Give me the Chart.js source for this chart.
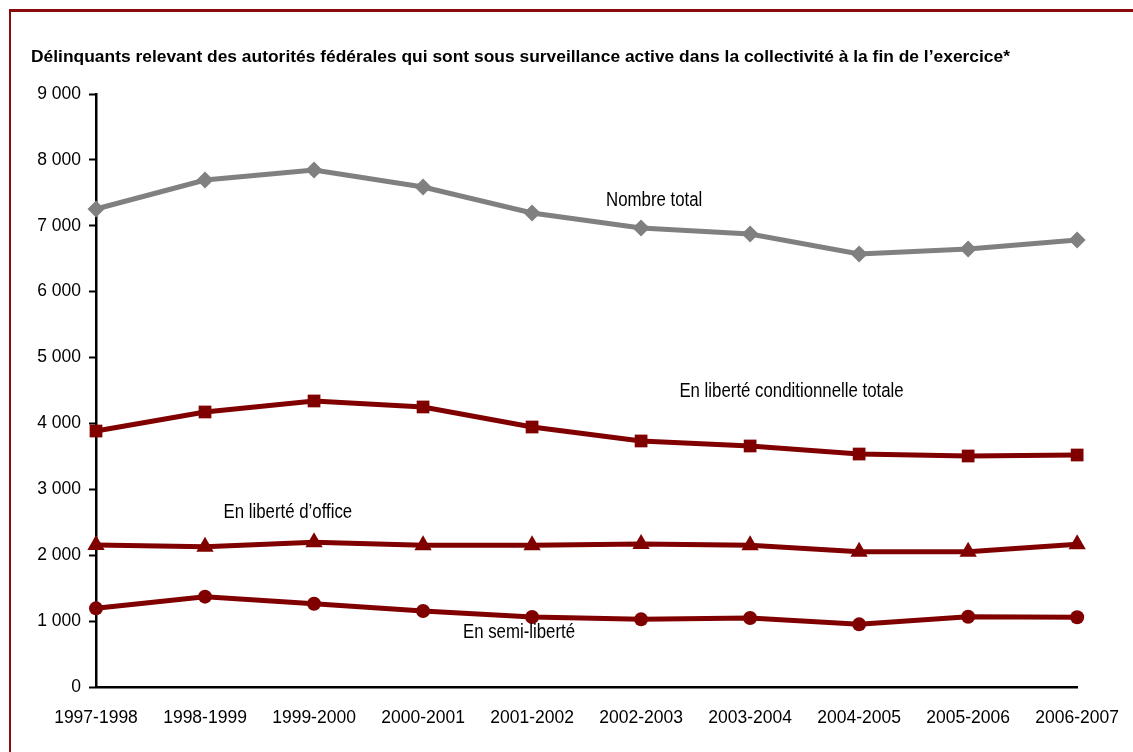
<!DOCTYPE html>
<html>
<head>
<meta charset="utf-8">
<script src="https://cdn.jsdelivr.net/npm/chart.js@4/dist/chart.umd.min.js"></script>
<style>
  html, body { margin: 0; padding: 0; background: #fff; }
  #wrap { position: relative; width: 1133px; height: 752px; overflow: hidden; }
  #frame { position: absolute; left: 9px; top: 9px; width: 1140px; height: 760px;
           border-left: 2px solid #8b0a0a; border-top: 3px solid #8b0a0a; box-sizing: border-box; }
  canvas { position: absolute; left: 0; top: 0; }
</style>
</head>
<body>
<div id="wrap">
  <div id="frame"></div>
  <canvas id="c" width="1133" height="752"></canvas>
</div>
<script>
const categories = ['1997-1998','1998-1999','1999-2000','2000-2001','2001-2002','2002-2003','2003-2004','2004-2005','2005-2006','2006-2007'];
const nombreTotal = [7255, 7695, 7846, 7588, 7194, 6966, 6875, 6572, 6647, 6784];
const conditionnelleTotale = [3885, 4174, 4341, 4250, 3946, 3734, 3658, 3536, 3506, 3521];
const liberteOffice = [2155, 2129, 2196, 2150, 2150, 2170, 2150, 2053, 2053, 2165];
const semiLiberte = [1194, 1371, 1264, 1153, 1062, 1027, 1047, 951, 1067, 1058];
const yTicks = [0, 1000, 2000, 3000, 4000, 5000, 6000, 7000, 8000, 9000];
const titleText = 'Délinquants relevant des autorités fédérales qui sont sous surveillance active dans la collectivité à la fin de l\u2019exercice*';
// series labels: [text, category position (fractional index), value]
const seriesLabels = [
  ['Nombre total', 5.12, 7390],
  ['En liberté conditionnelle totale', 6.38, 4492],
  ['En liberté d\u2019office', 1.76, 2656],
  ['En semi-liberté', 3.88, 835]
];

const GREY = '#808080';
const RED = '#800000';
const SANS = '"Liberation Sans", Arial, sans-serif';

function narrowText(ctx, text, x, y, squeeze, align) {
  ctx.save();
  ctx.translate(x, y);
  ctx.scale(squeeze, 1);
  ctx.textAlign = align;
  ctx.fillText(text, 0, 0);
  ctx.restore();
}

const textPlugin = {
  id: 'texts',
  afterDraw(chart) {
    const ctx = chart.ctx;
    ctx.save();
    ctx.fillStyle = '#000';
    ctx.textBaseline = 'middle';
    ctx.font = 'bold 17px ' + SANS;
    const tw = ctx.measureText(titleText).width;
    narrowText(ctx, titleText, 31, 57, 979 / tw, 'left');
    ctx.font = '20.5px ' + SANS;
    const xs = chart.scales.x, ys = chart.scales.y;
    seriesLabels.forEach(([t, ix, v]) => {
      const i0 = Math.floor(ix);
      const x0 = xs.getPixelForValue(i0);
      const x1 = xs.getPixelForValue(Math.min(i0 + 1, categories.length - 1));
      const x = x0 + (x1 - x0) * (ix - i0);
      narrowText(ctx, t, x, ys.getPixelForValue(v), 0.82, 'center');
    });
    ctx.restore();
  }
};

const ds = (label, data, color, style, r) => ({
  label, data, borderColor: color, backgroundColor: color, borderWidth: 5,
  pointStyle: style, pointRadius: r, pointHoverRadius: r, pointBorderWidth: 0,
  tension: 0, clip: false
});

new Chart(document.getElementById('c'), {
  type: 'line',
  data: {
    labels: categories,
    datasets: [
      ds('Nombre total', nombreTotal, GREY, 'rectRot', 8.5),
      ds('En liberté conditionnelle totale', conditionnelleTotale, RED, 'rect', 9),
      ds('En liberté d\u2019office', liberteOffice, RED, 'triangle', 10),
      ds('En semi-liberté', semiLiberte, RED, 'circle', 7)
    ]
  },
  options: {
    responsive: false,
    animation: false,
    events: [],
    layout: { padding: { top: 94, right: 54, left: 0, bottom: 0 } },
    plugins: { legend: { display: false }, title: { display: false }, tooltip: { enabled: false } },
    scales: {
      x: {
        offset: false,
        grid: { display: false, drawOnChartArea: false, drawTicks: true, tickLength: 7, tickWidth: 2, tickColor: '#000' },
        border: { display: true, color: '#000', width: 2.5 },
        ticks: { color: '#000', font: { size: 17.5, family: SANS }, padding: 14, maxRotation: 0, autoSkip: false },
        afterFit(s) { s.height = 65; }
      },
      y: {
        min: 0, max: 9000,
        afterBuildTicks(s) { s.ticks = yTicks.map(v => ({ value: v })); },
        grid: { display: true, drawOnChartArea: false, drawTicks: true, tickLength: 7, tickWidth: 2, tickColor: '#000' },
        border: { display: true, color: '#000', width: 2.5 },
        ticks: {
          color: '#000', font: { size: 17.5, family: SANS }, padding: 8,
          callback: v => v === 0 ? '0' : String(v).replace(/\B(?=(\d{3})+(?!\d))/g, ' ')
        },
        afterFit(s) { s.width = 96; }
      }
    }
  },
  plugins: [textPlugin]
});
</script>
</body>
</html>
